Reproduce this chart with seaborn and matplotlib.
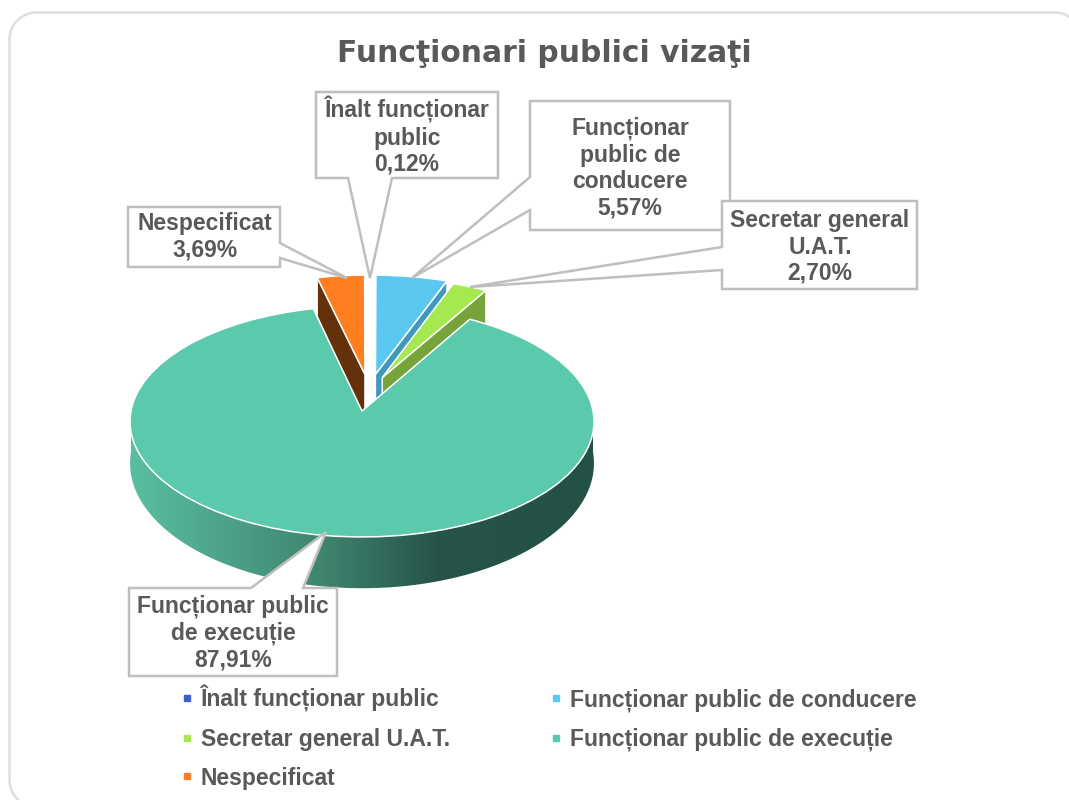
import numpy as np
import matplotlib
matplotlib.use("Agg")
import matplotlib.pyplot as plt
import seaborn as sns
from matplotlib.colors import LinearSegmentedColormap
from matplotlib.lines import Line2D
from matplotlib.patches import Polygon
from matplotlib.transforms import Transform

categories = ["Înalt funcționar public", "Funcționar public de conducere", "Secretar general U.A.T.",
              "Funcționar public de execuție", "Nespecificat"]
label_names = ["Înalt funcționar\npublic", "Funcționar\npublic de\nconducere", "Secretar general\nU.A.T.",
               "Funcționar public\nde execuție", "Nespecificat"]
values = [0.12, 5.57, 2.70, 87.91, 3.69]
top_colors = ["#3F5FC4", "#5AC8F0", "#A6E84F", "#5BC9AC", "#FF7F20"]
side_colors = ["#2F478F", "#4098BC", "#76A33A", "#3E9A80", "#64320A"]
title = "Funcţionari publici vizaţi"

# projection of the tilted disc to pixels
CX, CY, RX, RY, K, DEPTH, K2 = 362.0, 411.0, 231.0, 114.5, 0.091, 41.0, 0.2
slice_shift = [(0.04, 0.33), (0.06, 0.33), (0.09, 0.30), (0.0, 0.0), (0.013, 0.33)]
side_edge = ["theta1", "theta1", "theta1", None, "theta2"]
side_reach = [1.0, 1.0, 1.05, 1.0, 1.2]


class Tilt(Transform):
    input_dims = 2
    output_dims = 2
    is_separable = False

    def __init__(self, z=0.0):
        super().__init__()
        self.z = z

    def transform_non_affine(self, values):
        pts = np.asarray(values, dtype=float)
        u, v = pts[:, 0], pts[:, 1]
        w = 1 + K * v
        return np.column_stack((CX + RX * u / w, CY - RY * v / w + self.z * DEPTH / (1 + K2 * v)))


sns.set_theme(style="white")
palette = sns.color_palette(top_colors)
plt.rcParams["font.family"] = ["Liberation Sans", "DejaVu Sans"]
TEXT = "#595959"
LINE = "#BFBFBF"
FS = 16.5

fig = plt.figure(figsize=(10.69, 8.0), dpi=100, facecolor="white")
ax = fig.add_axes([0, 0, 1, 1])

wedges, _ = ax.pie(values, colors=palette, startangle=90, counterclock=False,
                   wedgeprops=dict(edgecolor="white", linewidth=1.1))
ax.set_aspect("auto")

top, bottom = Tilt(0.0), Tilt(1.0)


def arc(center, angles):
    t = np.radians(angles)
    return np.column_stack((center[0] + np.cos(t), center[1] + np.sin(t)))


for wedge, shift, edge, side, reach in zip(wedges, slice_shift, side_edge, side_colors, side_reach):
    wedge.set_center(shift)
    wedge.set_transform(top + ax.transData)
    if edge is not None:
        wedge.set_zorder(2)
        low = Tilt(reach)
        apex = np.array([shift])
        rim = arc(shift, [getattr(wedge, edge)])
        quad = np.vstack((top.transform(apex), top.transform(rim), low.transform(rim), low.transform(apex)))
        ax.add_patch(Polygon(quad, closed=True, facecolor=side, edgecolor="white", linewidth=1.0, zorder=1))
    else:
        wedge.set_zorder(4)
        angles = np.linspace(-180, 0, 160)
        ring = arc(shift, angles)
        band = np.vstack((top.transform(ring), bottom.transform(ring)[::-1]))
        clip = Polygon(band, closed=True, facecolor="none", edgecolor="none", zorder=3)
        ax.add_patch(clip)
        cmap = LinearSegmentedColormap.from_list(
            "rim", [(0.0, "#5ABFA2"), (0.41, "#3F8570"), (0.66, "#265448"), (1.0, "#245145")])
        img = ax.imshow(np.linspace(0, 1, 256).reshape(1, -1), extent=(130, 595, 600, 400),
                        aspect="auto", cmap=cmap, vmin=0, vmax=1, zorder=3)
        img.set_clip_path(clip)

# outer rounded frame, open where it leaves the picture
FL, FT, FR, FB, FRAD = 9.5, 12.5, 1082.0, 807.0, 27.0
corner = np.linspace(0, np.pi / 2, 30)
bl = np.column_stack((FL + FRAD - FRAD * np.sin(corner), FB - FRAD + FRAD * np.cos(corner)))
tl = np.column_stack((FL + FRAD - FRAD * np.cos(corner), FT + FRAD - FRAD * np.sin(corner)))
tr = np.column_stack((FR - FRAD + FRAD * np.sin(corner), FT + FRAD - FRAD * np.cos(corner)))
frame = np.vstack((bl, tl, tr))
ax.plot(frame[:, 0], frame[:, 1], color="#DEDEDE", linewidth=1.8, zorder=0, scalex=False, scaley=False)

ax.set_xlim(0, 1069)
ax.set_ylim(800, 0)
ax.axis("off")

ax.text(544, 53, title, ha="center", va="center", fontsize=21.4, fontweight="bold",
        family="DejaVu Sans", color=TEXT, zorder=6)

# callouts: outline with pointer, and text centre
callouts = {
    0: ([(316, 92), (498, 92), (498, 178), (392, 178), (370, 278), (348, 178), (316, 178)], (407, 136)),
    1: ([(530, 101), (730, 101), (730, 230), (530, 230), (530, 210), (412, 278), (530, 177)], (630, 168)),
    2: ([(722, 201), (917, 201), (917, 289), (722, 289), (722, 270), (470, 287), (722, 247)], (820, 247)),
    3: ([(129, 588), (251, 588), (326, 532), (303, 588), (337, 588), (337, 676), (129, 676)], (233, 633)),
    4: ([(128, 207), (280, 207), (280, 243), (347, 278), (280, 258), (280, 267), (128, 267)], (205, 237)),
}
for i, (outline, centre) in callouts.items():
    ax.add_patch(Polygon(outline, closed=True, facecolor="white", edgecolor=LINE, linewidth=1.8, zorder=5))
    share = f"{values[i]:.2f}".replace(".", ",") + "%"
    ax.text(centre[0], centre[1], f"{label_names[i]}\n{share}", ha="center", va="center",
            fontsize=FS, fontweight="bold", color=TEXT, linespacing=1.19, zorder=6)

order = [0, 2, 4, 1, 3]
handles = [Line2D([], [], linestyle="none", marker="s", markersize=5, color=palette[i]) for i in order]
ax.legend(handles, [categories[i] for i in order], ncol=2, frameon=False,
          loc="upper left", bbox_to_anchor=(168.5 / 1069, 1 - 678 / 800),
          prop=dict(size=FS, weight="bold"), labelcolor=TEXT, handletextpad=0.1, handlelength=1.0,
          columnspacing=4.13, labelspacing=0.69, borderaxespad=0, borderpad=0.3)

fig.savefig("out.png", dpi=100, facecolor="white")
